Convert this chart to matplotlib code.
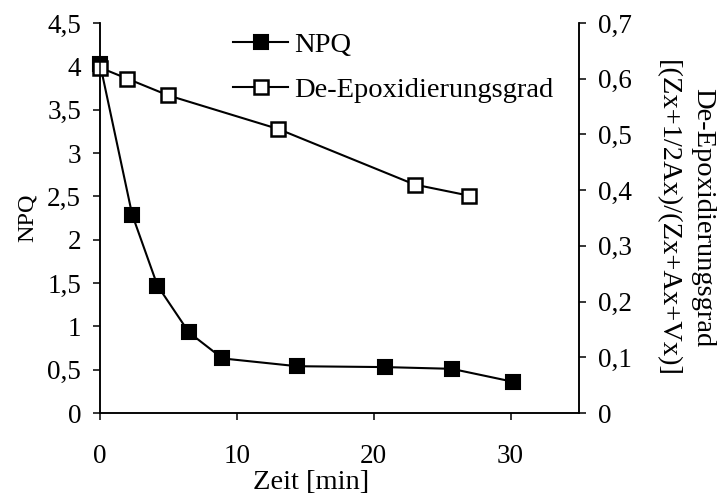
import matplotlib
matplotlib.use("Agg")
from matplotlib import pyplot as plt
from matplotlib.ticker import FuncFormatter

# NPQ and de-epoxidation state over time
npq_time = [0, 2.35, 4.2, 6.5, 8.95, 14.4, 20.8, 25.7, 30.2]
npq = [4.03, 2.29, 1.47, 0.93, 0.63, 0.54, 0.53, 0.51, 0.36]

deps_time = [0, 2, 5, 13, 23, 27]
deps = [0.62, 0.60, 0.57, 0.51, 0.41, 0.39]

left_ticks = [0, 0.5, 1, 1.5, 2, 2.5, 3, 3.5, 4, 4.5]
right_ticks = [0, 0.1, 0.2, 0.3, 0.4, 0.5, 0.6, 0.7]
x_ticks = [0, 10, 20, 30]

plt.rcParams['font.family'] = ['Liberation Serif', 'DejaVu Serif']
fs_tick = 19.5
fs_text = 20.5


def comma(v, pos):
    # German decimal comma
    return ('%g' % v).replace('.', ',')


fig = plt.figure(figsize=(7.23, 4.96), dpi=100)
ax = fig.add_axes([0.1383, 0.1673, 0.6625, 0.7863])
ax2 = ax.twinx()

l1, = ax.plot(npq_time, npq, c='black', lw=1.5, marker='s', ms=10.5,
              mfc='black', mec='black', mew=1.5, label='NPQ', clip_on=False)
l2, = ax2.plot(deps_time, deps, c='black', lw=1.5, marker='s', ms=10.5,
               mfc='white', mec='black', mew=1.8,
               label='De-Epoxidierungsgrad', clip_on=False)

ax.set_xlim(0, 35)
ax.set_ylim(0, 4.5)
ax2.set_ylim(0, 0.7)
ax.set_xticks(x_ticks)
ax.set_yticks(left_ticks)
ax2.set_yticks(right_ticks)
ax.yaxis.set_major_formatter(FuncFormatter(comma))
ax2.yaxis.set_major_formatter(FuncFormatter(comma))

for a in (ax, ax2):
    a.spines['top'].set_visible(False)
    for s in a.spines.values():
        s.set_linewidth(1.1)
    a.tick_params(axis='both', direction='out', length=5, width=1.1,
                  labelsize=fs_tick, colors='black')
ax.tick_params(axis='x', pad=17)
ax.tick_params(axis='y', pad=8.5)
ax2.tick_params(axis='y', pad=8.5)

ax.set_xlabel('Zeit [min]', fontsize=fs_text)
ax.xaxis.set_label_coords(0.44, -0.145)
ax.xaxis.label.set_va('top')
ax.set_ylabel('NPQ', fontsize=17.5, labelpad=7)
ax2.set_ylabel('De-Epoxidierungsgrad\n[(Zx+1/2Ax)/(Zx+Ax+Vx)]',
               fontsize=fs_text, rotation=270, va='bottom', labelpad=16.5,
               linespacing=1.55)

ax2.legend(handles=[l1, l2], loc='upper left', bbox_to_anchor=(0.254, 1.007),
           frameon=False, fontsize=fs_text, handlelength=1.93,
           handletextpad=0.22, markerscale=0.9, labelspacing=0.7,
           borderaxespad=0)

fig.savefig('out.png', dpi=100)
